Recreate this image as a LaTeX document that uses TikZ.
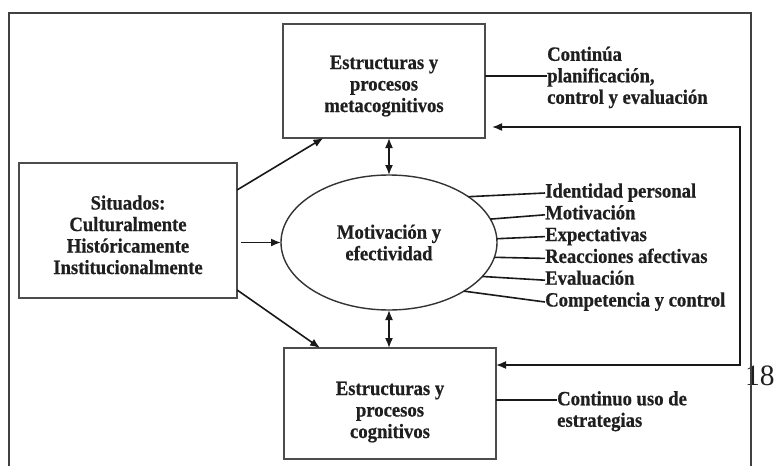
\documentclass[tikz,border=0pt]{standalone}
\usepackage{fontspec}
\setmainfont{Liberation Serif}
\newfontfamily\figfont[FakeStretch=0.92,FakeBold=0.6]{Liberation Serif}
\usetikzlibrary{arrows.meta,shapes.geometric,calc}
\begin{document}
\begin{tikzpicture}[x=1pt,y=-1pt,
  every node/.style={font=\figfont\fontsize{20.3}{21.5}\selectfont\bfseries, text=black!88},
  boxnode/.style={draw=black!70, line width=1.6pt, inner sep=0pt, outer sep=0pt, align=center},
  ellnode/.style={ellipse, draw=black!80, line width=1.4pt, inner sep=0pt, outer sep=0pt, align=center, minimum width=216pt, minimum height=135pt},
  conn/.style={line width=1.6pt, draw=black!90},
  arr/.style={conn, -{Latex[length=10pt,width=8pt]}},
  darr/.style={conn, {Latex[length=10pt,width=8pt]}-{Latex[length=10pt,width=8pt]}},
  lab/.style={anchor=west, inner sep=0pt, text height=13pt, text depth=4pt},
  sidetext/.style={align=left, inner sep=0pt, anchor=north west}
]
\useasboundingbox (0,0) rectangle (774,466);
\fill[white] (0,0) rectangle (774,466);

\node[boxnode, minimum width=202pt, minimum height=114pt] (meta) at (384,81) {\rule{0pt}{23.5pt}Estructuras y\\procesos\\metacognitivos};
\node[boxnode, minimum width=218pt, minimum height=135pt] (sit) at (128,230.5) {\rule{0pt}{22.8pt}Situados:\\Culturalmente\\Históricamente\\Institucionalmente};
\node[ellnode] (mot) at (389,242.5) {Motivación y\\efectividad};
\node[boxnode, minimum width=212pt, minimum height=111pt] (cog) at (390,403.5) {\rule{0pt}{30.5pt}Estructuras y\\procesos\\cognitivos};

\node[lab] (l1) at (545,193) {Identidad personal};
\node[lab] (l2) at (545,214.8) {Motivación};
\node[lab] (l3) at (545,236.6) {Expectativas};
\node[lab] (l4) at (545,258.4) {Reacciones afectivas};
\node[lab] (l5) at (545,280.2) {Evaluación};
\node[lab] (l6) at (545,302) {Competencia y control};
\draw[conn] (mot.30.3) -- (l1.west);
\draw[conn] (mot.13.6) -- (l2.west);
\draw[conn] (mot.2.6) -- (l3.west);
\draw[conn] (mot.-8.5) -- (l4.west);
\draw[conn] (mot.-20.2) -- (l5.west);
\draw[conn] (mot.-33) -- (l6.west);

\node[sidetext] (plan) at (547,46.5) {Continúa\\planificación,\\control y evaluación};
\coordinate (planin) at (547,76);
\draw[conn] (meta.east |- planin) -- (planin);

\node[sidetext] (estr) at (557,391) {Continuo uso de\\estrategias};
\coordinate (estrin) at (557,400);
\draw[conn] (cog.east |- estrin) -- (estrin);

\coordinate (fbtop) at (740,127);
\coordinate (fbbot) at (740,365);
\draw[darr] ($(meta.east |- fbtop)+(7,0)$) -- (fbtop) -- (fbbot) -- (cog.east |- fbbot);

\draw[arr] ($(sit.north east)!0.2!(sit.south east)$) -- ($(meta.south west)!0.2!(meta.south east)$);
\draw[arr] ($(sit.north east)!0.94!(sit.south east)$) -- ($(cog.north west)!0.17!(cog.north east)$);
\draw[arr] ($(sit.east |- mot.west)+(4,0)$) -- (mot.west);
\draw[darr] (meta.south -| mot.north) -- (mot.north);
\draw[darr] (mot.south) -- (mot.south |- cog.north);

\node[font=\normalfont\fontsize{29.5}{30}\selectfont, anchor=base west, inner sep=0pt] (pg) at (745,385) {18};
\draw[black!75, line width=2.6pt] (9,466) -- (9,13) -- (751,13) -- (751,466);
\end{tikzpicture}
\end{document}
